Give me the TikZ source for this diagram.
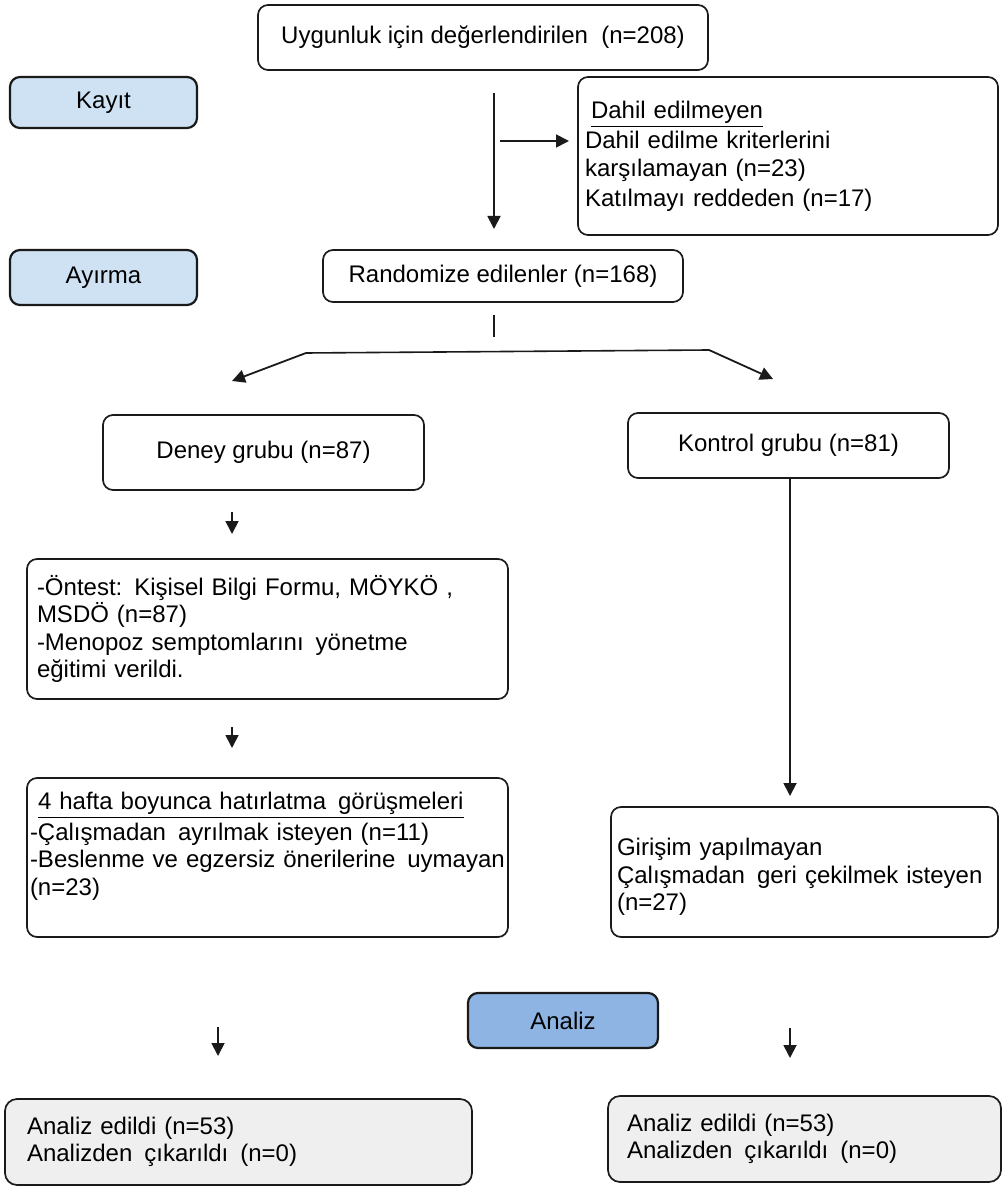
\documentclass[tikz,border=0pt]{standalone}
\usepackage{fontspec}
\setmainfont{Liberation Sans}
\usetikzlibrary{arrows.meta}
\definecolor{lblue}{HTML}{CFE2F3}
\definecolor{mblue}{HTML}{8DB4E2}
\definecolor{lgray}{HTML}{EFEFEF}
\definecolor{edge}{HTML}{1A1A1A}
\tikzset{
  box/.style={draw=edge, line width=0.85pt, rounded corners=5pt, inner ysep=0pt,
    font=\fontsize{12}{13.8}\selectfont, fill=white},
  stagebox/.style={box, fill=lblue, line width=1.1pt, align=center},
  arr/.style={-{Triangle[length=6.5pt,width=6.5pt]}, line width=0.9pt, draw=edge},
  ln/.style={line width=0.8pt, draw=edge},
}
\begin{document}
\begin{tikzpicture}[x=0.5pt,y=-0.5pt]
\useasboundingbox (0,0) rectangle (1003,1186);
% boxes (centres in px, sizes in pt = px/2)
\node[box, align=center, minimum width=225pt, minimum height=32.5pt] (top) at (483,37.5) {Uygunluk için değerlendirilen \ (n=208)};
\node[stagebox, minimum width=93.5pt, minimum height=25.5pt] (kayit) at (103.5,102.5) {Kayıt};
\node[box, align=left, minimum width=210pt, minimum height=79pt, inner xsep=3.5pt, text width=203pt] (dahil) at (788,156)
  {\hspace{3pt}\underline{Dahil edilmeyen}\\[1.5pt]Dahil edilme kriterlerini\\[0pt]karşılamayan (n=23)\\[1pt]Katılmayı reddeden (n=17)};
\node[stagebox, minimum width=93.5pt, minimum height=27.5pt] (ayirma) at (103.5,277.5) {Ayırma};
\node[box, align=center, minimum width=180pt, minimum height=26pt] (rand) at (503,276) {Randomize edilenler (n=168)};
\node[box, align=center, minimum width=160.5pt, minimum height=37.5pt] (deney) at (263.5,452.5) {Deney grubu (n=87)};
\node[box, align=center, minimum width=160.5pt, minimum height=32.5pt] (kontrol) at (788.5,445.5) {Kontrol grubu (n=81)};
\node[box, align=left, minimum width=240.5pt, minimum height=70pt, inner xsep=5pt, text width=230.5pt] (ontest) at (267.5,629)
  {-Öntest: Kişisel Bilgi Formu, MÖYKÖ ,\\MSDÖ (n=87)\\-Menopoz semptomlarını \,yönetme\\eğitimi verildi.};
\node[box, align=left, minimum width=240.5pt, minimum height=79.5pt, inner xsep=1.5pt, text width=237.5pt] (hafta) at (267.5,857.5)
  {\hspace{4pt}\underline{4 hafta boyunca hatırlatma \,görüşmeleri}\\[1.5pt]-Çalışmadan \,ayrılmak isteyen (n=11)\\\mbox{-Beslenme ve egzersiz önerilerine \,uymayan}\\(n=23)\\\mbox{}};
\node[box, align=left, minimum width=193.5pt, minimum height=65pt, inner xsep=3pt, text width=187.5pt] (girisim) at (804.5,872)
  {\mbox{}\\Girişim yapılmayan\\Çalışmadan \,geri çekilmek isteyen\\(n=27)};
\node[box, fill=mblue, line width=1.1pt, align=center, minimum width=95pt, minimum height=27.5pt] (analiz) at (563,1020.5) {Analiz};
\node[box, fill=lgray, rounded corners=6pt, align=left, minimum width=233.5pt, minimum height=43pt, inner xsep=11pt, text width=211.5pt] (botL) at (238.5,1142)
  {Analiz edildi (n=53)\\Analizden \,çıkarıldı \,(n=0)};
\node[box, fill=lgray, rounded corners=6pt, align=left, minimum width=196.5pt, minimum height=43pt, inner xsep=9.5pt, text width=177.5pt] (botR) at (804.5,1139)
  {Analiz edildi (n=53)\\Analizden \,çıkarıldı \,(n=0)};
% connector end points
\coordinate (a1s) at (494,93);   \coordinate (a1e) at (494,229);
\coordinate (a2s) at (500,141);  \coordinate (a2e) at (569,141);
\coordinate (st1) at (494,315);  \coordinate (st2) at (494,337);
\coordinate (sL) at (306,353);   \coordinate (sR) at (709,350);
\coordinate (tL) at (232,381);   \coordinate (tR) at (773,379);
\coordinate (a3s) at (232,512);  \coordinate (a3e) at (232,534);
\coordinate (a4s) at (232,727);  \coordinate (a4e) at (232,748);
\coordinate (a5e) at (790,796);
\coordinate (a6s) at (218,1027); \coordinate (a6e) at (218,1056);
\coordinate (a7s) at (790,1028); \coordinate (a7e) at (790,1058);
% connectors
\draw[arr] (a1s) -- (a1e);
\draw[arr] (a2s) -- (a2e);
\draw[ln] (st1) -- (st2);
\draw[ln] (sL) -- (sR);
\draw[arr] (sL) -- (tL);
\draw[arr] (sR) -- (tR);
\draw[arr] (a3s) -- (a3e);
\draw[arr] (a4s) -- (a4e);
\draw[arr] (kontrol.south -| a5e) -- (a5e);
\draw[arr] (a6s) -- (a6e);
\draw[arr] (a7s) -- (a7e);
\end{tikzpicture}
\end{document}
